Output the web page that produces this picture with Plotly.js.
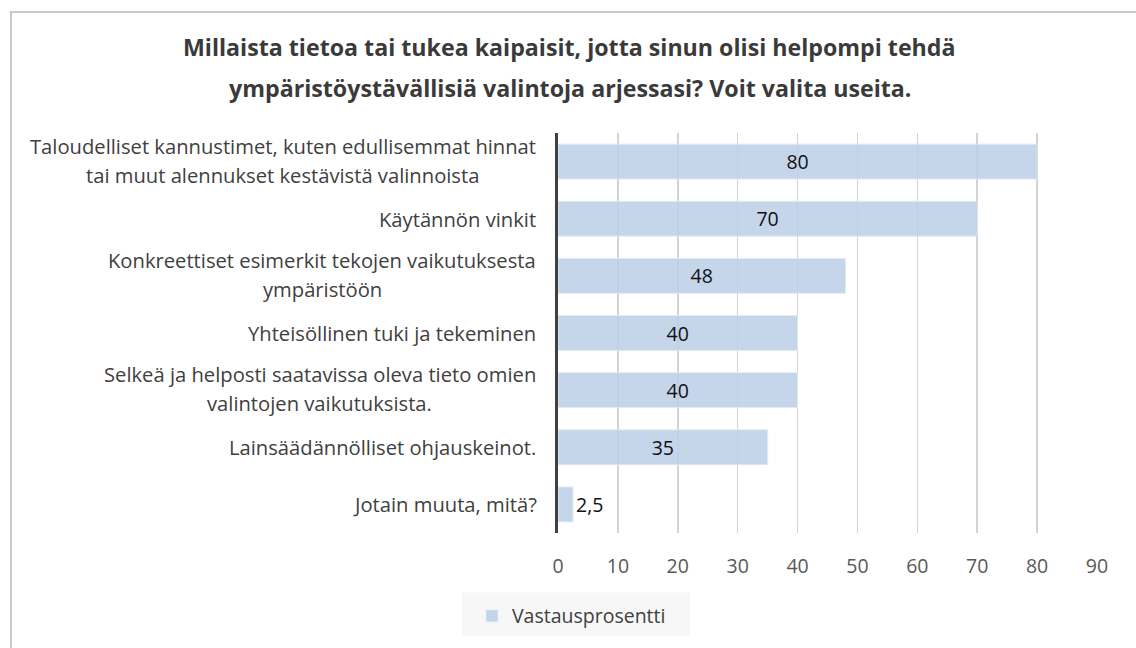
<!DOCTYPE html>
<html>
<head>
<meta charset="utf-8">
<script src="https://cdn.plot.ly/plotly-3.0.1.min.js"></script>
<style>
html,body{margin:0;padding:0;background:#fff;}
#wrap{position:relative;width:1136px;height:648px;}
#chart{width:1136px;height:648px;}
#frame{position:absolute;left:10px;top:11px;width:1140px;height:660px;border-left:2px solid #c9c9c9;border-top:2px solid #c9c9c9;pointer-events:none;}
</style>
</head>
<body>
<div id="wrap"><div id="chart"></div><div id="frame"></div></div>
<script>
const categories = [
  "Taloudelliset kannustimet, kuten edullisemmat hinnat<br>tai muut alennukset kestävistä valinnoista",
  "Käytännön vinkit",
  "Konkreettiset esimerkit tekojen vaikutuksesta<br>ympäristöön",
  "Yhteisöllinen tuki ja tekeminen",
  "Selkeä ja helposti saatavissa oleva tieto omien<br>valintojen vaikutuksista.",
  "Lainsäädännölliset ohjauskeinot.",
  "Jotain muuta, mitä?"
];
const values = [80, 70, 48, 40, 40, 35, 2.5];
const seriesName = "Vastausprosentti";
const titleLines = [
  "Millaista tietoa tai tukea kaipaisit, jotta sinun olisi helpompi tehdä",
  "ympäristöystävällisiä valintoja arjessasi? Voit valita useita."
];
const xTicks = [0, 10, 20, 30, 40, 50, 60, 70, 80, 90];

const FONT = "'Open Sans', Lato, sans-serif";
const LABEL_SIZE = 20.2;
const TICK_SIZE = 19.5;
const textLabels = values.map(v => String(v).replace('.', ','));

const cv = document.createElement('canvas').getContext('2d');
cv.font = LABEL_SIZE + "px 'Open Sans'";
const annotations = [];
categories.forEach((c, i) => {
  const lines = c.split('<br>');
  const maxW = Math.max(...lines.map(l => cv.measureText(l).width));
  const n = lines.length;
  lines.forEach((l, k) => {
    annotations.push({
      xref: 'paper', yref: 'y', x: 0, y: i,
      xanchor: 'center', yanchor: 'middle',
      xshift: -(22 + maxW / 2),
      yshift: ((n - 1) / 2 - k) * 29 + (n > 1 ? 1.5 : 0),
      text: l, showarrow: false,
      font: {family: FONT, size: LABEL_SIZE, color: '#404040'}
    });
  });
});
titleLines.forEach((t, k) => {
  annotations.push({
    xref: 'paper', yref: 'paper', x: 0.5, y: 1,
    xanchor: 'center', yanchor: 'middle',
    xshift: -258, yshift: k === 0 ? 86 : 45,
    text: '<b>' + t + '</b>', showarrow: false,
    font: {family: FONT, size: 23.2, color: '#3a3a3a'}
  });
});

const trace = {
  type: 'bar', orientation: 'h',
  y: categories.map((c, i) => i), x: values,
  name: seriesName,
  text: textLabels, textposition: 'auto', insidetextanchor: 'middle',
  constraintext: 'none', cliponaxis: false,
  textfont: {family: FONT, size: TICK_SIZE, color: '#111'},
  insidetextfont: {family: FONT, size: TICK_SIZE, color: '#111'},
  outsidetextfont: {family: FONT, size: TICK_SIZE, color: '#111'},
  marker: {color: 'rgba(187,206,230,0.85)', line: {color: 'rgba(225,234,245,0.9)', width: 1}},
  hoverinfo: 'none'
};

const layout = {
  width: 1136, height: 648,
  margin: {l: 558, r: 39, t: 133, b: 112},
  paper_bgcolor: 'rgba(0,0,0,0)', plot_bgcolor: 'rgba(0,0,0,0)',
  font: {family: FONT, color: '#595959'},
  bargap: 0.39,
  showlegend: true,
  legend: {
    orientation: 'h', x: 0.025, xanchor: 'center', y: -0.208, yanchor: 'middle',
    bgcolor: 'rgba(0,0,0,0)', font: {family: FONT, size: TICK_SIZE, color: '#404040'}
  },
  xaxis: {
    range: [0, 90], tickvals: xTicks, ticktext: xTicks.map(String),
    showgrid: true, gridcolor: '#d4d4d4', gridwidth: 1.5,
    zeroline: false, showline: false, ticks: '',
    ticklabelstandoff: 19,
    tickfont: {family: FONT, size: TICK_SIZE, color: '#595959'},
    fixedrange: true
  },
  yaxis: {
    range: [6.5, -0.5], showticklabels: false, ticks: '',
    showgrid: false, zeroline: false,
    showline: true, linecolor: '#404040', linewidth: 3,
    fixedrange: true
  },
  annotations: annotations,
  shapes: [{
    type: 'rect', xref: 'paper', yref: 'paper', layer: 'below',
    x0: -0.178, x1: 0.245, y0: -0.149, y1: -0.258,
    fillcolor: '#f7f7f7', line: {width: 0}
  }]
};

Plotly.newPlot('chart', [trace], layout, {displayModeBar: false, staticPlot: true});
</script>
</body>
</html>
